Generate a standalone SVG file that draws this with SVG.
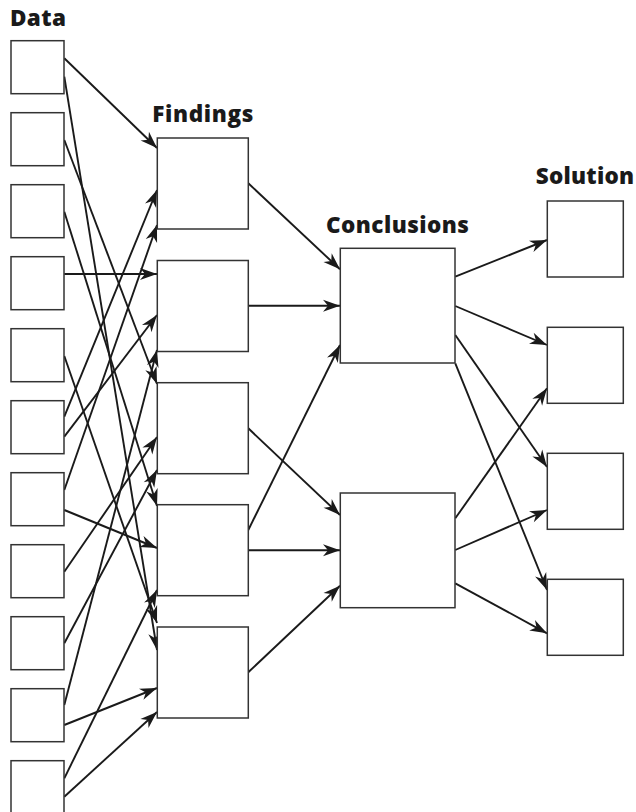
<svg xmlns="http://www.w3.org/2000/svg" width="636" height="812" viewBox="0 0 636 812">
  <defs>
    <marker id="arrow" viewBox="-18 -7 19 14" refX="0" refY="0" markerWidth="19" markerHeight="14" orient="auto" markerUnits="userSpaceOnUse">
      <path d="M0,0 L-17,-6 L-12,0 L-17,6 Z" fill="#1a1a1a"/>
    </marker>
    <style>
      .box { fill: #ffffff; stroke: #333333; stroke-width: 1.5; }
      .lbl { font-family: "Open Sans", "Noto Sans", "Liberation Sans", sans-serif; font-weight: 800; font-size: 22.5px; fill: #1a1a1a; }
      .conn line { stroke: #1a1a1a; stroke-width: 1.9; fill: none; marker-end: url(#arrow); }
    </style>
  </defs>

  <rect width="636" height="812" fill="#ffffff"/>

  <!-- column headings -->
  <g id="headings">
    <text class="lbl" x="10" y="25.5" textLength="56" lengthAdjust="spacing">Data</text>
    <text class="lbl" x="152.3" y="121.7" textLength="101" lengthAdjust="spacing">Findings</text>
    <text class="lbl" x="326" y="232.7" textLength="143" lengthAdjust="spacing">Conclusions</text>
    <text class="lbl" x="535.7" y="184.3" textLength="98.5" lengthAdjust="spacing">Solution</text>
  </g>

  <!-- connectors -->
  <g id="connectors" class="conn">
    <!-- data to findings -->
    <line x1="64.3" y1="58.3" x2="157" y2="148"/>
    <line x1="64.3" y1="76.7" x2="157" y2="650"/>
    <line x1="64.3" y1="140" x2="157" y2="384"/>
    <line x1="64.3" y1="211.7" x2="157" y2="506"/>
    <line x1="64.3" y1="274" x2="157" y2="274"/>
    <line x1="64.3" y1="356" x2="157" y2="623"/>
    <line x1="64.3" y1="416.7" x2="157" y2="190"/>
    <line x1="64.3" y1="436.7" x2="157" y2="315"/>
    <line x1="64.3" y1="490" x2="157" y2="225"/>
    <line x1="64.3" y1="510" x2="157" y2="548"/>
    <line x1="64.3" y1="571.7" x2="157" y2="437"/>
    <line x1="64.3" y1="643.3" x2="157" y2="470"/>
    <line x1="64.3" y1="705" x2="157" y2="350"/>
    <line x1="64.3" y1="725" x2="157" y2="688"/>
    <line x1="64.3" y1="778.3" x2="157" y2="590"/>
    <line x1="64.3" y1="796.7" x2="157" y2="712"/>
    <!-- findings to conclusions -->
    <line x1="248.3" y1="183.3" x2="340" y2="269.3"/>
    <line x1="248.3" y1="305.7" x2="340" y2="305.7"/>
    <line x1="248.3" y1="428.3" x2="340" y2="515"/>
    <line x1="248.3" y1="530" x2="340" y2="345"/>
    <line x1="248.3" y1="550.3" x2="340" y2="550.3"/>
    <line x1="248.3" y1="672.3" x2="340" y2="585.7"/>
    <!-- conclusions to solution -->
    <line x1="455.3" y1="276.7" x2="547" y2="240"/>
    <line x1="455.3" y1="306" x2="547" y2="345"/>
    <line x1="455.3" y1="335" x2="547" y2="467"/>
    <line x1="455.3" y1="363.3" x2="547" y2="590"/>
    <line x1="455.3" y1="518.3" x2="547" y2="388.3"/>
    <line x1="455.3" y1="550" x2="547" y2="510"/>
    <line x1="455.3" y1="583.3" x2="547" y2="633.3"/>
  </g>

  <!-- data items -->
  <g id="data-1"><rect class="box" x="11" y="40.7" width="53" height="53"/></g>
  <g id="data-2"><rect class="box" x="11" y="112.7" width="53" height="53"/></g>
  <g id="data-3"><rect class="box" x="11" y="184.7" width="53" height="53"/></g>
  <g id="data-4"><rect class="box" x="11" y="256.7" width="53" height="53"/></g>
  <g id="data-5"><rect class="box" x="11" y="328.7" width="53" height="53"/></g>
  <g id="data-6"><rect class="box" x="11" y="400.7" width="53" height="53"/></g>
  <g id="data-7"><rect class="box" x="11" y="472.7" width="53" height="53"/></g>
  <g id="data-8"><rect class="box" x="11" y="544.7" width="53" height="53"/></g>
  <g id="data-9"><rect class="box" x="11" y="616.7" width="53" height="53"/></g>
  <g id="data-10"><rect class="box" x="11" y="688.7" width="53" height="53"/></g>
  <g id="data-11"><rect class="box" x="11" y="760.7" width="53" height="53"/></g>

  <!-- findings -->
  <g id="finding-1"><rect class="box" x="157.3" y="138" width="91" height="91"/></g>
  <g id="finding-2"><rect class="box" x="157.3" y="260.5" width="91" height="91"/></g>
  <g id="finding-3"><rect class="box" x="157.3" y="382.7" width="91" height="91"/></g>
  <g id="finding-4"><rect class="box" x="157.3" y="504.7" width="91" height="91"/></g>
  <g id="finding-5"><rect class="box" x="157.3" y="627" width="91" height="91"/></g>

  <!-- conclusions -->
  <g id="conclusion-1"><rect class="box" x="340.3" y="248.3" width="114.7" height="114.7"/></g>
  <g id="conclusion-2"><rect class="box" x="340.3" y="493" width="114.7" height="114.7"/></g>

  <!-- solution -->
  <g id="solution-1"><rect class="box" x="547.3" y="201" width="76" height="76"/></g>
  <g id="solution-2"><rect class="box" x="547.3" y="327.3" width="76" height="76"/></g>
  <g id="solution-3"><rect class="box" x="547.3" y="453.3" width="76" height="76"/></g>
  <g id="solution-4"><rect class="box" x="547.3" y="579.3" width="76" height="76"/></g>
</svg>
